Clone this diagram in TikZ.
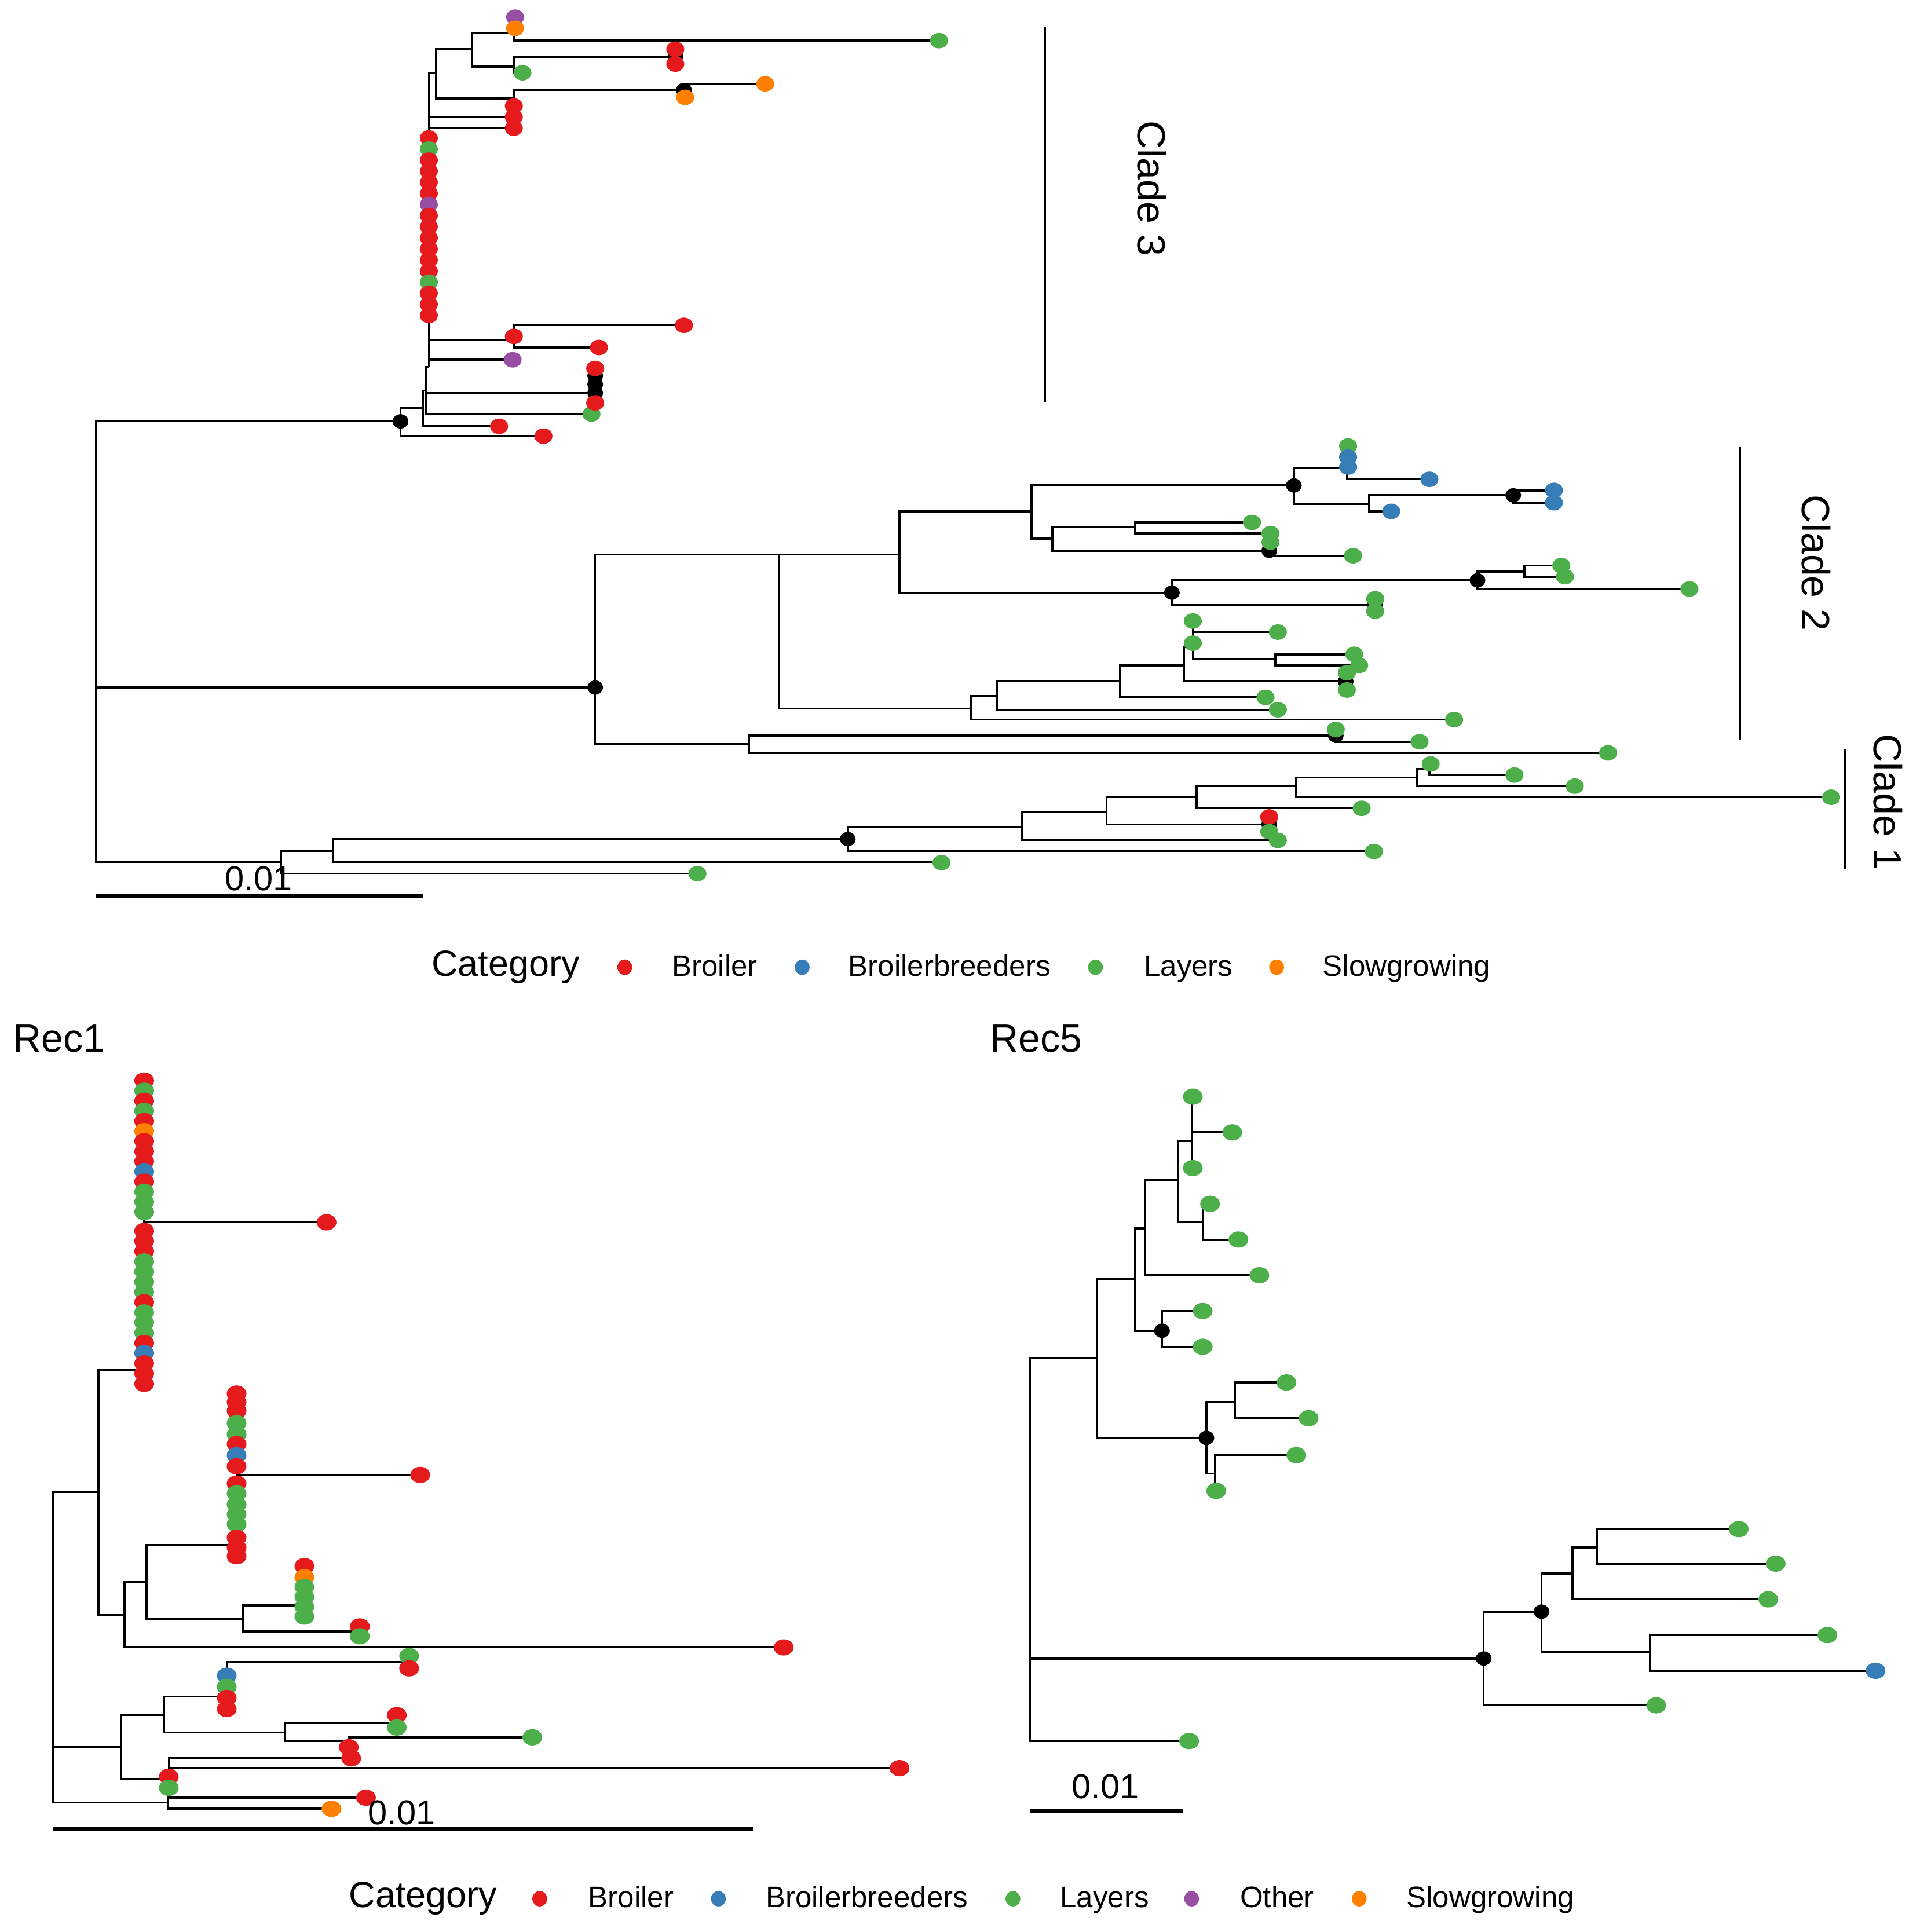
\documentclass[tikz,border=0pt]{standalone}
\usepackage{fontspec}
\setmainfont{Liberation Sans}
\usetikzlibrary{shapes.geometric}

\definecolor{broiler}{HTML}{E41A1C}
\definecolor{breeder}{HTML}{377EB8}
\definecolor{layer}{HTML}{4DAF4A}
\definecolor{other}{HTML}{984EA3}
\definecolor{slow}{HTML}{FF7F00}

\pgfdeclarelayer{bg}
\pgfsetlayers{bg,main}

\tikzset{
  leaf/.style={ellipse, inner sep=0pt, minimum width=7.3pt, minimum height=6.3pt, fill=#1},
  recleaf/.style={leaf=#1, minimum width=8pt, minimum height=6.6pt},
  bnode/.style={leaf=black, minimum width=6.4pt, minimum height=5.8pt},
  branch/.style={line width=0.85pt},
  cladebar/.style={line width=0.8pt},
  scalebar/.style={line width=1.6pt},
  itemfont/.style={inner sep=0pt, anchor=base west, font=\fontsize{12pt}{14pt}\selectfont},
  titlefont/.style={inner sep=0pt, anchor=base west, font=\fontsize{14.8pt}{17pt}\selectfont},
  cladefont/.style={inner sep=0pt, rotate=-90, font=\fontsize{16pt}{18pt}\selectfont},
  panelfont/.style={inner sep=0pt, anchor=west, font=\fontsize{16pt}{18pt}\selectfont},
  scalefont/.style={inner sep=0pt, font=\fontsize{14pt}{16pt}\selectfont},
}

\begin{document}
\begin{tikzpicture}[x=0.5pt,y=0.5pt,yscale=-1,xscale=1]
\useasboundingbox (0,0) rectangle (1558,1568);

% ---------------- top tree ----------------
\coordinate (top) at (78,521);

% clade 3
\node[bnode] (p3r) at (325,342) {};
\coordinate (p3k) at (343,331);
\coordinate (p3j) at (346,317);
\coordinate (p3m) at (348,298);
\coordinate (p3a) at (354,59);
\coordinate (p3b) at (383,40);
\coordinate (p3c) at (417,27);
\coordinate (p3d) at (417,54);
\coordinate (p3f) at (417,80);
\coordinate (p3h) at (417,276);
\node[bnode] (p3i) at (483,319) {};
\node[bnode] (p3i2) at (483,312) {};
\node[bnode] (p3i3) at (483,305) {};
\node[bnode] (p3e) at (548,46) {};
\node[bnode] (p3g) at (555,73) {};

\foreach \n/\x/\y/\c in {t3a/441/354/broiler, t3b/405/346/broiler, t3c/480/336/layer,
    t3d/483/299/broiler, t3e/483/327/broiler, t3f/417/95/broiler, t3g/417/104/broiler,
    t3h/416/292/other, t3i/418/14/other, t3j/418/23/slow, t3k/762/33/layer,
    t3l/548/40/broiler, t3m/548/52/broiler, t3n/424/59/layer, t3o/556/79/slow,
    t3p/621/68/slow, t3q/417/86/broiler, t3r/555/264/broiler, t3s/417/273/broiler,
    t3t/486/282/broiler}
  \node[leaf=\c] (\n) at (\x,\y) {};
\foreach \c [count=\i from 0] in {broiler,layer,broiler,broiler,broiler,broiler,other,
    broiler,broiler,broiler,broiler,broiler,broiler,layer,broiler,broiler,broiler}
  \node[leaf=\c] (col3-\i) at (348,{112+9*\i}) {};

% clade 2
\node[bnode] (p2r) at (483,558) {};
\coordinate (p2p) at (632,450);
\coordinate (p2q) at (608,604);
\coordinate (p2R) at (730,450);
\coordinate (p2aa) at (837,415);
\coordinate (p2dd) at (854,437);
\coordinate (p2ee) at (1093,380);
\coordinate (p2ff) at (1111,409);
\coordinate (p2hh) at (921,428);
\coordinate (p2ll) at (1237,464);
\coordinate (p2s) at (788,575);
\coordinate (p2t) at (809,565);
\coordinate (p2u) at (909,553);
\coordinate (p2v) at (961,540);
\coordinate (p2w) at (968,525);
\coordinate (p2x) at (1035,535);
\node[bnode] (p2cc) at (1050,394) {};
\node[bnode] (p2gg) at (1228,402) {};
\node[bnode] (p2ii) at (1030,447) {};
\node[bnode] (p2bb) at (951,481) {};
\node[bnode] (p2jj) at (1199,471) {};
\node[bnode] (p2kk) at (1116,491) {};
\node[bnode] (p2y) at (1092,553) {};
\node[bnode] (p2z) at (1084,597) {};

\foreach \n/\x/\y/\c in {t2a/1094/362/layer, t2b/1094/371/breeder, t2c/1094/379/breeder,
    t2d/1160/389/breeder, t2e/1261/398/breeder, t2f/1261/408/breeder, t2g/1129/415/breeder,
    t2h/1016/424/layer, t2i/1031/433/layer, t2j/1031/440/layer, t2k/1098/451/layer,
    t2l/1267/459/layer, t2m/1270/468/layer, t2n/1371/478/layer, t2o/1116/486/layer,
    t2p/1116/496/layer, t2q/968/504/layer, t2r/1037/513/layer, t2s/968/522/layer,
    t2t/1099/531/layer, t2u/1103/540/layer, t2v/1093/546/layer, t2w/1093/560/layer,
    t2x/1027/566/layer, t2y/1037/576/layer, t2z/1180/584/layer, t2aa/1084/592/layer,
    t2ab/1152/602/layer, t2ac/1305/611/layer}
  \node[leaf=\c] (\n) at (\x,\y) {};

% clade 1
\coordinate (c1a) at (228,700);
\coordinate (c1b) at (270,691);
\coordinate (c1d) at (829,671);
\coordinate (c1e) at (898,659);
\coordinate (c1f) at (971,647);
\coordinate (c1g) at (1052,638);
\coordinate (c1h) at (1150,631);
\coordinate (c1i) at (1160,624);
\node[bnode] (c1c) at (688,681) {};
\node[bnode] (c1n) at (1030,669) {};

\foreach \n/\x/\y/\c in {t1a/566/709/layer, t1b/764/700/layer, t1c/1115/691/layer,
    t1d/1037/682/layer, t1e/1030/663/broiler, t1f/1030/675/layer, t1g/1105/656/layer,
    t1h/1486/647/layer, t1i/1278/638/layer, t1j/1161/620/layer, t1k/1229/629/layer}
  \node[leaf=\c] (\n) at (\x,\y) {};

\begin{pgfonlayer}{bg}
\foreach \p/\c in {top/p3r, top/p2r, top/c1a,
    p3r/p3k, p3r/t3a, p3k/p3j, p3k/t3b, p3j/p3m, p3j/p3i, p3j/t3c, p3i/p3i2, p3i2/p3i3,
    p3i3/t3d, p3i/t3e, p3m/p3a, p3m/t3f, p3m/t3g, p3m/p3h, p3m/t3h, p3a/p3b, p3a/p3f,
    p3b/p3c, p3b/p3d, p3c/t3i, p3c/t3j, p3c/t3k, p3d/p3e, p3d/t3n, p3e/t3l, p3e/t3m,
    p3f/p3g, p3f/t3q, p3g/t3o, p3g/t3p, p3h/t3r, p3h/t3s, p3h/t3t,
    p2r/p2p, p2r/p2q, p2p/p2R, p2p/p2s, p2R/p2aa, p2R/p2bb, p2aa/p2cc, p2aa/p2dd,
    p2cc/p2ee, p2cc/p2ff, p2ee/t2a, p2ee/t2b, p2ee/t2c, p2ee/t2d, p2ff/p2gg, p2ff/t2g,
    p2gg/t2e, p2gg/t2f, p2dd/p2hh, p2dd/p2ii, p2hh/t2h, p2hh/t2i, p2ii/t2j, p2ii/t2k,
    p2bb/p2jj, p2bb/p2kk, p2jj/p2ll, p2jj/t2n, p2ll/t2l, p2ll/t2m, p2kk/t2o, p2kk/t2p,
    p2s/p2t, p2s/t2z, p2t/p2u, p2t/t2y, p2u/p2v, p2u/t2x, p2v/p2w, p2v/p2y, p2w/t2q,
    p2w/t2r, p2w/t2s, p2w/p2x, p2x/t2t, p2x/t2u, p2y/t2v, p2y/t2w, p2q/p2z, p2q/t2ac,
    p2z/t2aa, p2z/t2ab,
    c1a/c1b, c1a/t1a, c1b/c1c, c1b/t1b, c1c/c1d, c1c/t1c, c1d/c1e, c1d/t1d, c1e/c1f,
    c1e/c1n, c1n/t1e, c1n/t1f, c1f/c1g, c1f/t1g, c1g/c1h, c1g/t1h, c1h/c1i, c1h/t1i,
    c1i/t1j, c1i/t1k}
  \draw[branch] (\p.center) |- (\c.center);
\foreach \i in {0,...,16}
  \draw[branch] (p3m.center) |- (col3-\i.center);
\end{pgfonlayer}

% clade bars
\coordinate (bar3a) at (848,22);  \coordinate (bar3b) at (848,326);
\coordinate (bar2a) at (1412,363); \coordinate (bar2b) at (1412,600);
\coordinate (bar1a) at (1497,608); \coordinate (bar1b) at (1497,705);
\draw[cladebar] (bar3a) -- (bar3b);
\draw[cladebar] (bar2a) -- (bar2b);
\draw[cladebar] (bar1a) -- (bar1b);
\node[cladefont] (clade3) at (935,153) {Clade 3};
\node[cladefont] (clade2) at (1474,457) {Clade 2};
\node[cladefont] (clade1) at (1532,651) {Clade 1};

% scale bar
\coordinate (sbt1) at (78,727); \coordinate (sbt2) at (343,727);
\draw[scalebar] (sbt1) -- (sbt2);
\node[scalefont] (sbtlab) at (210,713) {0.01};

% legend
\node[titlefont] (cat1) at (350,792) {Category};
\node[leaf=broiler, minimum width=6pt] (lg1a) at (507,785) {};
\node[itemfont] (lt1a) at (545,792) {Broiler};
\node[leaf=breeder, minimum width=6pt] (lg1b) at (651,785) {};
\node[itemfont] (lt1b) at (688,792) {Broilerbreeders};
\node[leaf=layer, minimum width=6pt] (lg1c) at (889,785) {};
\node[itemfont] (lt1c) at (928,792) {Layers};
\node[leaf=slow, minimum width=6pt] (lg1d) at (1036,785) {};
\node[itemfont] (lt1d) at (1073,792) {Slowgrowing};

% ---------------- Rec1 ----------------
\node[panelfont] (rec1) at (10,843) {Rec1};

\coordinate (r1root) at (43,1335);
\coordinate (r1a) at (80,1211);
\coordinate (r1b) at (98,1418);
\coordinate (r1c) at (136,1463);
\coordinate (r1p) at (117,1112);
\coordinate (r1d) at (101,1311);
\coordinate (r1e) at (119,1284);
\coordinate (r1f) at (192,1254);
\coordinate (r1g) at (197,1314);
\coordinate (r1h) at (247,1303);
\coordinate (r1q) at (292,1324);
\coordinate (r1i) at (133,1392);
\coordinate (r1j) at (137,1444);
\coordinate (r1m) at (184,1377);
\coordinate (r1l) at (332,1349);
\coordinate (r1k) at (231,1406);
\coordinate (r1o) at (322,1398);
\coordinate (r1n) at (283,1413);

\foreach \n/\x/\y/\c in {u1a/265/992/broiler, u1b/636/1337/broiler, u1c/341/1197/broiler,
    u1d/292/1320/broiler, u1e/292/1328/layer, u1f/297/1459/broiler, u1g/269/1468/slow,
    u1h/184/1360/breeder, u1i/184/1369/layer, u1j/184/1378/broiler, u1k/184/1387/broiler,
    u1l/332/1344/layer, u1m/332/1354/broiler, u1n/322/1392/broiler, u1o/322/1402/layer,
    u1p/432/1410/layer, u1q/283/1418/broiler, u1r/285/1427/broiler, u1s/730/1435/broiler,
    u1t/137/1442/broiler, u1u/137/1451/layer}
  \node[recleaf=\c] (\n) at (\x,\y) {};
\foreach \c [count=\i from 0] in {broiler,layer,broiler,layer,broiler,slow,broiler,
    broiler,broiler,breeder,broiler,layer,layer,layer}
  \node[recleaf=\c] (ca\i) at (117,{877+8.2*\i}) {};
\foreach \c [count=\i from 0] in {broiler,broiler,broiler,layer,layer,layer,layer,broiler,
    layer,layer,layer,broiler,breeder,broiler,broiler,broiler}
  \node[recleaf=\c] (cd\i) at (117,{999+8.27*\i}) {};
\foreach \y/\c [count=\i from 0] in {1131/broiler,1138/broiler,1145/broiler,1155/layer,
    1164/layer,1172/broiler,1181/breeder,1190/broiler,1204/broiler,1212/layer,1221/layer,
    1229/layer,1237/layer,1248/broiler,1256/broiler,1263/broiler}
  \node[recleaf=\c] (cb\i) at (192,\y) {};
\foreach \y/\c [count=\i from 0] in {1271/broiler,1280/slow,1288/layer,1296/layer,
    1304/layer,1312/layer}
  \node[recleaf=\c] (cc\i) at (247,\y) {};

\begin{pgfonlayer}{bg}
\foreach \p/\c in {r1root/r1a, r1root/r1b, r1root/r1c, r1a/r1p, r1a/r1d, r1p/u1a,
    r1d/r1e, r1d/u1b, r1e/r1f, r1e/r1g, r1f/u1c, r1g/r1h, r1g/r1q, r1q/u1d, r1q/u1e,
    r1c/u1f, r1c/u1g, r1b/r1i, r1b/r1j, r1i/r1m, r1i/r1k, r1m/r1l, r1m/u1h, r1m/u1i,
    r1m/u1j, r1m/u1k, r1l/u1l, r1l/u1m, r1k/r1o, r1k/r1n, r1o/u1n, r1o/u1o, r1n/u1p,
    r1n/u1q, r1j/u1r, r1j/u1s, r1j/u1t, r1j/u1u}
  \draw[branch] (\p.center) |- (\c.center);
\foreach \i in {0,...,13}
  \draw[branch] (r1p.center) |- (ca\i.center);
\foreach \i in {0,...,15}
  \draw[branch] (r1p.center) |- (cd\i.center);
\foreach \i in {0,...,15}
  \draw[branch] (r1f.center) |- (cb\i.center);
\foreach \i in {0,...,5}
  \draw[branch] (r1h.center) |- (cc\i.center);
\end{pgfonlayer}

\coordinate (sbr1a) at (43,1484); \coordinate (sbr1b) at (611,1484);
\draw[scalebar] (sbr1a) -- (sbr1b);
\node[scalefont] (sbr1lab) at (326,1471) {0.01};

% ---------------- Rec5 ----------------
\node[panelfont] (rec5) at (803,843) {Rec5};

\coordinate (r5root) at (836,1258);
\coordinate (s1) at (890,1102);
\coordinate (s3) at (921,1038);
\coordinate (s5) at (929,997);
\coordinate (s7) at (956,958);
\coordinate (s8) at (967,926);
\coordinate (s9) at (976,992);
\coordinate (s10) at (1002,1138);
\coordinate (s11) at (986,1196);
\coordinate (s13) at (1276,1277);
\coordinate (s14) at (1339,1341);
\coordinate (s15) at (1296,1256);
\node[bnode] (s2) at (1204,1346) {};
\node[bnode] (s4) at (979,1167) {};
\node[bnode] (s6) at (943,1080) {};
\node[bnode] (s12) at (1251,1308) {};

\foreach \n/\x/\y/\c in {v5a/965/1413/layer, v5b/968/890/layer, v5c/1000/919/layer,
    v5d/968/948/layer, v5e/982/977/layer, v5f/1005/1006/layer, v5g/1022/1035/layer,
    v5h/976/1064/layer, v5i/976/1093/layer, v5j/1044/1122/layer, v5k/1062/1151/layer,
    v5l/1052/1181/layer, v5m/987/1210/layer, v5n/1344/1384/layer, v5o/1411/1241/layer,
    v5p/1441/1269/layer, v5q/1435/1298/layer, v5r/1483/1327/layer, v5s/1522/1356/breeder}
  \node[recleaf=\c] (\n) at (\x,\y) {};

\begin{pgfonlayer}{bg}
\foreach \p/\c in {r5root/s1, r5root/s2, r5root/v5a, s1/s3, s1/s4, s3/s5, s3/s6,
    s5/s7, s5/v5g, s7/s8, s7/s9, s8/v5b, s8/v5c, s8/v5d, s9/v5e, s9/v5f, s6/v5h, s6/v5i,
    s4/s10, s4/s11, s10/v5j, s10/v5k, s11/v5l, s11/v5m, s2/s12, s2/v5n, s12/s13,
    s12/s14, s13/s15, s13/v5q, s15/v5o, s15/v5p, s14/v5r, s14/v5s}
  \draw[branch] (\p.center) |- (\c.center);
\end{pgfonlayer}

\coordinate (sbr5a) at (836,1470); \coordinate (sbr5b) at (960,1470);
\draw[scalebar] (sbr5a) -- (sbr5b);
\node[scalefont] (sbr5lab) at (897,1450) {0.01};

% legend
\node[titlefont] (cat2) at (283,1548) {Category};
\node[leaf=broiler, minimum width=6pt] (lg2a) at (438,1541) {};
\node[itemfont] (lt2a) at (477,1548) {Broiler};
\node[leaf=breeder, minimum width=6pt] (lg2b) at (583,1541) {};
\node[itemfont] (lt2b) at (621,1548) {Broilerbreeders};
\node[leaf=layer, minimum width=6pt] (lg2c) at (822,1541) {};
\node[itemfont] (lt2c) at (860,1548) {Layers};
\node[leaf=other, minimum width=6pt] (lg2d) at (967,1541) {};
\node[itemfont] (lt2d) at (1006,1548) {Other};
\node[leaf=slow, minimum width=6pt] (lg2e) at (1103,1541) {};
\node[itemfont] (lt2e) at (1141,1548) {Slowgrowing};

\end{tikzpicture}
\end{document}
